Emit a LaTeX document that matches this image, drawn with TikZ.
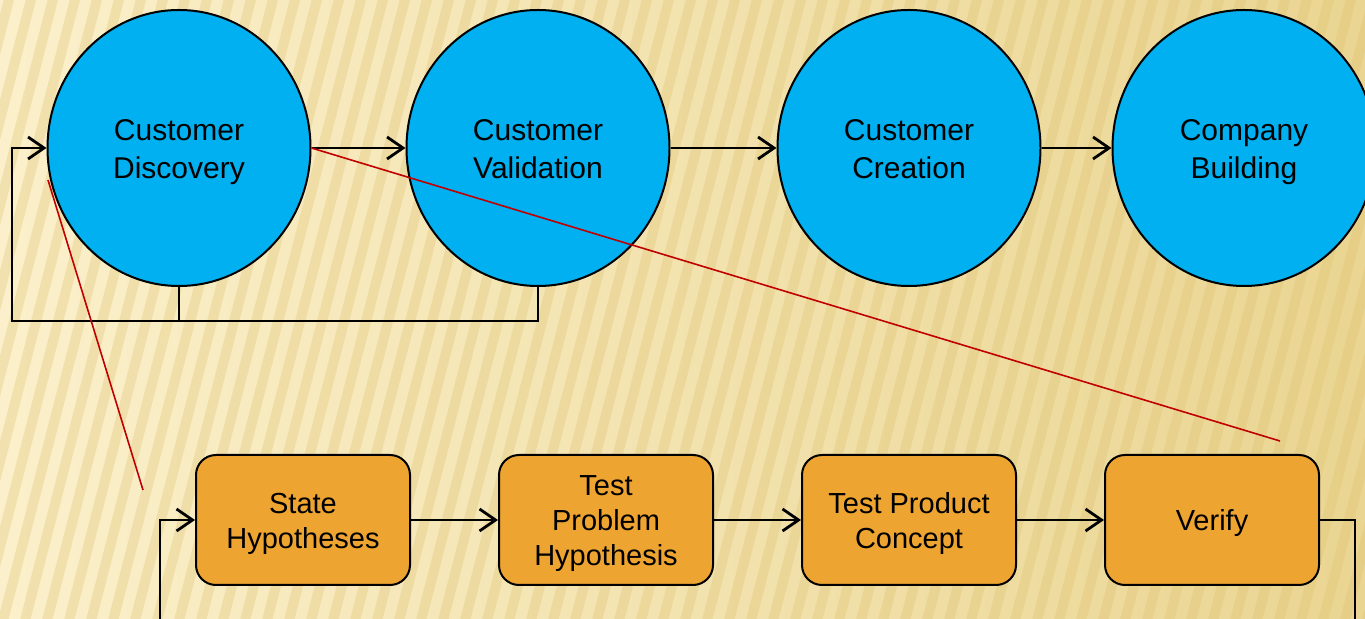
\documentclass[tikz,border=0pt]{standalone}
\usepackage{fontspec}
\setmainfont{Liberation Sans}
\usetikzlibrary{shapes.geometric}
\usetikzlibrary{positioning}
\usetikzlibrary{arrows.meta}

\definecolor{phaseblue}{HTML}{00B0F0}
\definecolor{steporange}{HTML}{EEA431}
\definecolor{paperlight}{HTML}{FBF0CB}
\definecolor{paperdark}{HTML}{EAD592}
\definecolor{stripe}{HTML}{DDBF6C}
\definecolor{zoomred}{HTML}{C00000}

% centred lines, first one pushed down a little
\newcommand{\phaselines}[1]{\begin{tabular}{@{}c@{}}\rule{0pt}{17.7pt}#1\end{tabular}}
\newcommand{\steplines}[1]{\begin{tabular}{@{}c@{}}\rule{0pt}{16.25pt}#1\end{tabular}}

\begin{document}
\begin{tikzpicture}[x=0.5pt, y=-0.5pt]
	\tikzset{
		phase/.style={ellipse, draw=black, line width=1pt, fill=phaseblue, minimum width=131.5pt, minimum height=138pt, inner sep=0pt, font=\fontsize{15}{19}\selectfont},
		stepbox/.style={rectangle, rounded corners=10pt, draw=black, line width=1pt, fill=steporange, minimum width=107pt, minimum height=65pt, inner sep=0pt, font=\fontsize{14.5}{17.5}\selectfont},
		flow/.style={-{Straight Barb[length=8pt, width=11pt]}, line width=1.4pt},
		loop/.style={line width=1.4pt},
		zoomline/.style={draw=zoomred, line width=0.8pt},
	}
	\useasboundingbox (0,0) rectangle (1365,619);
	\clip (0,0) rectangle (1365,619);

	% paper background with slanted stripes
	\shade[left color=paperlight, right color=paperdark] (0,0) rectangle (1365,619);
	\foreach \sx in {-200,-178,...,1400}
		\draw[stripe, line width=5pt, opacity=0.3] (\sx,640) -- ++(170,-660);

	% the four phases
	\node[phase] (disc) at (179,148) {\phaselines{Customer\\Discovery}};
	\node[phase] (valid) at (538,148) {\phaselines{Customer\\Validation}};
	\node[phase] (create) at (909,148) {\phaselines{Customer\\Creation}};
	\node[phase] (build) at (1244,148) {\phaselines{Company\\Building}};

	\draw[flow] (disc.east) -- (valid.west);
	\draw[flow] (valid.east) -- (create.west);
	\draw[flow] (create.east) -- (build.west);

	% pivot back to discovery
	\coordinate (back) at (12,321);
	\draw[loop] (disc.south) -- (disc.south |- back);
	\draw[flow] (valid.south) |- (back) |- (disc.west);

	% steps of customer discovery
	\node[stepbox] (hyp) at (303,520) {\steplines{State\\Hypotheses}};
	\node[stepbox] (prob) at (606,520) {\steplines{Test\\Problem\\Hypothesis}};
	\node[stepbox] (concept) at (909,520) {\steplines{Test Product\\Concept}};
	\node[stepbox] (verify) at (1212,520) {\steplines{Verify}};

	\draw[flow] (hyp.east) -- (prob.west);
	\draw[flow] (prob.east) -- (concept.west);
	\draw[flow] (concept.east) -- (verify.west);

	\coordinate (turn) at (1355,520);
	\coordinate (under) at (160,660);
	\draw[loop] (verify.east) -- (turn) -- (turn |- under) -- (under);
	\draw[flow] (under) |- (hyp.west);

	% zoom lines
	\draw[zoomline] (disc.east) -- (1280,441);
	\draw[zoomline] (48,180) -- (143,490);
\end{tikzpicture}
\end{document}
